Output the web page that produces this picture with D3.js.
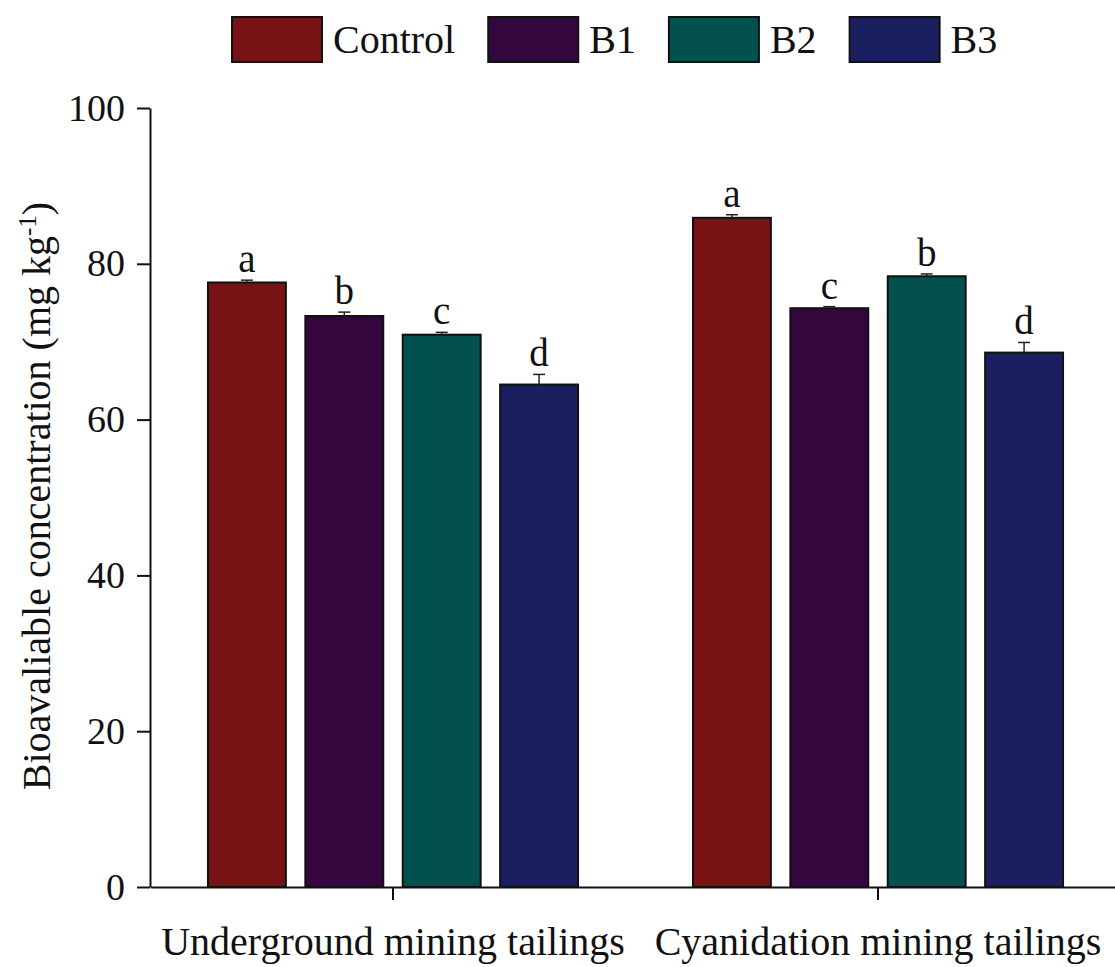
<!DOCTYPE html>
<html>
<head>
<meta charset="utf-8">
<script src="https://cdn.jsdelivr.net/npm/d3@7"></script>
<style>
  html, body { margin: 0; padding: 0; background: #fff; }
  svg { display: block; font-family: "Liberation Serif", "Times New Roman", serif; }
</style>
</head>
<body>
<svg id="chart" width="1115" height="967"></svg>
<script>
// Sites (x-axis groups) and treatments (series)
const sites = ["Underground mining tailings", "Cyanidation mining tailings"];
const treatments = ["Control", "B1", "B2", "B3"];

// Mean bioavailable concentration (mg kg-1) per treatment, one value per site
const controlValues = [77.6, 85.9];
const b1Values = [73.3, 74.3];
const b2Values = [70.9, 78.4];
const b3Values = [64.5, 68.6];

// Standard errors (upper bars only)
const controlErrors = [0.3, 0.4];
const b1Errors = [0.5, 0.2];
const b2Errors = [0.3, 0.3];
const b3Errors = [1.3, 1.3];

// Significance letters
const controlLetters = ["a", "a"];
const b1Letters = ["b", "c"];
const b2Letters = ["c", "b"];
const b3Letters = ["d", "d"];

const yTicks = [0, 20, 40, 60, 80, 100];
const colors = ["#781315", "#33063d", "#02514f", "#1a1f5f"];

const valueSets = [controlValues, b1Values, b2Values, b3Values];
const errorSets = [controlErrors, b1Errors, b2Errors, b3Errors];
const letterSets = [controlLetters, b1Letters, b2Letters, b3Letters];

const rows = [];
sites.forEach((site, i) => {
  treatments.forEach((t, j) => {
    rows.push({ site, treatment: t, value: valueSets[j][i], err: errorSets[j][i], letter: letterSets[j][i] });
  });
});

const svg = d3.select("#chart");
const plotLeft = 150, plotTop = 108, plotBottom = 887;

const y = d3.scaleLinear().domain([0, 100]).range([plotBottom, plotTop]);
const x0 = d3.scaleBand().domain(sites).range([150.5, 1120.5]);
const x1 = d3.scaleBand().domain(treatments).range([0, x0.bandwidth()]).paddingInner(0.2).paddingOuter(0.59);
const color = d3.scaleOrdinal().domain(treatments).range(colors);

// Bars
const g = svg.append("g");
g.selectAll("rect.bar").data(rows).join("rect")
  .attr("class", "bar")
  .attr("x", d => x0(d.site) + x1(d.treatment))
  .attr("width", x1.bandwidth())
  .attr("y", d => y(d.value))
  .attr("height", d => y(0) - y(d.value))
  .attr("fill", d => color(d.treatment))
  .attr("stroke", "#111")
  .attr("stroke-width", 2);

// Upper error bars
const eb = g.selectAll("g.err").data(rows).join("g").attr("class", "err")
  .attr("transform", d => `translate(${x0(d.site) + x1(d.treatment) + x1.bandwidth() / 2},0)`);
eb.append("line").attr("x1", 0).attr("x2", 0)
  .attr("y1", d => y(d.value)).attr("y2", d => y(d.value + d.err))
  .attr("stroke", "#222").attr("stroke-width", 1.5);
eb.append("line").attr("x1", -6).attr("x2", 6)
  .attr("y1", d => y(d.value + d.err)).attr("y2", d => y(d.value + d.err))
  .attr("stroke", "#222").attr("stroke-width", 1.5);

// Letters above error bars
g.selectAll("text.letter").data(rows).join("text")
  .attr("class", "letter")
  .attr("x", d => x0(d.site) + x1(d.treatment) + x1.bandwidth() / 2)
  .attr("y", d => y(d.value + d.err) - 8)
  .attr("text-anchor", "middle")
  .attr("font-size", 39)
  .attr("fill", "#111")
  .text(d => d.letter);

// Y axis
const yAxis = svg.append("g").attr("transform", `translate(${plotLeft},0)`)
  .call(d3.axisLeft(y).tickValues(yTicks).tickSize(13).tickSizeOuter(0).tickPadding(12));
yAxis.selectAll("text").attr("font-size", 38).attr("fill", "#111")
  .attr("font-family", "Liberation Serif, serif");
yAxis.selectAll("line, path").attr("stroke", "#111").attr("stroke-width", 2);

// X axis
const xAxis = svg.append("g").attr("transform", `translate(0,${plotBottom})`)
  .call(d3.axisBottom(x0).tickSize(13).tickSizeOuter(0).tickPadding(27));
xAxis.selectAll("text").attr("font-size", 40).attr("fill", "#111")
  .attr("font-family", "Liberation Serif, serif");
xAxis.selectAll("line, path").attr("stroke", "#111").attr("stroke-width", 2);

// Y axis title
const title = svg.append("text")
  .attr("transform", "translate(50,496) rotate(-90)")
  .attr("text-anchor", "middle")
  .attr("font-size", 40)
  .attr("fill", "#111");
title.append("tspan").text("Bioavaliable concentration (mg kg");
title.append("tspan").attr("dy", -14).attr("font-size", 25).text("-1");
title.append("tspan").attr("dy", 14).text(")");

// Legend: swatch, label, then the next item
let lx = 232;
treatments.forEach(t => {
  const item = svg.append("g");
  item.append("rect").attr("x", lx).attr("y", 17).attr("width", 90).attr("height", 45)
    .attr("fill", color(t)).attr("stroke", "#111").attr("stroke-width", 2);
  const txt = item.append("text").attr("x", lx + 101).attr("y", 53)
    .attr("font-size", 40).attr("fill", "#111").text(t);
  const w = txt.node().getComputedTextLength();
  lx = lx + 101 + w + 33;
});
</script>
</body>
</html>
